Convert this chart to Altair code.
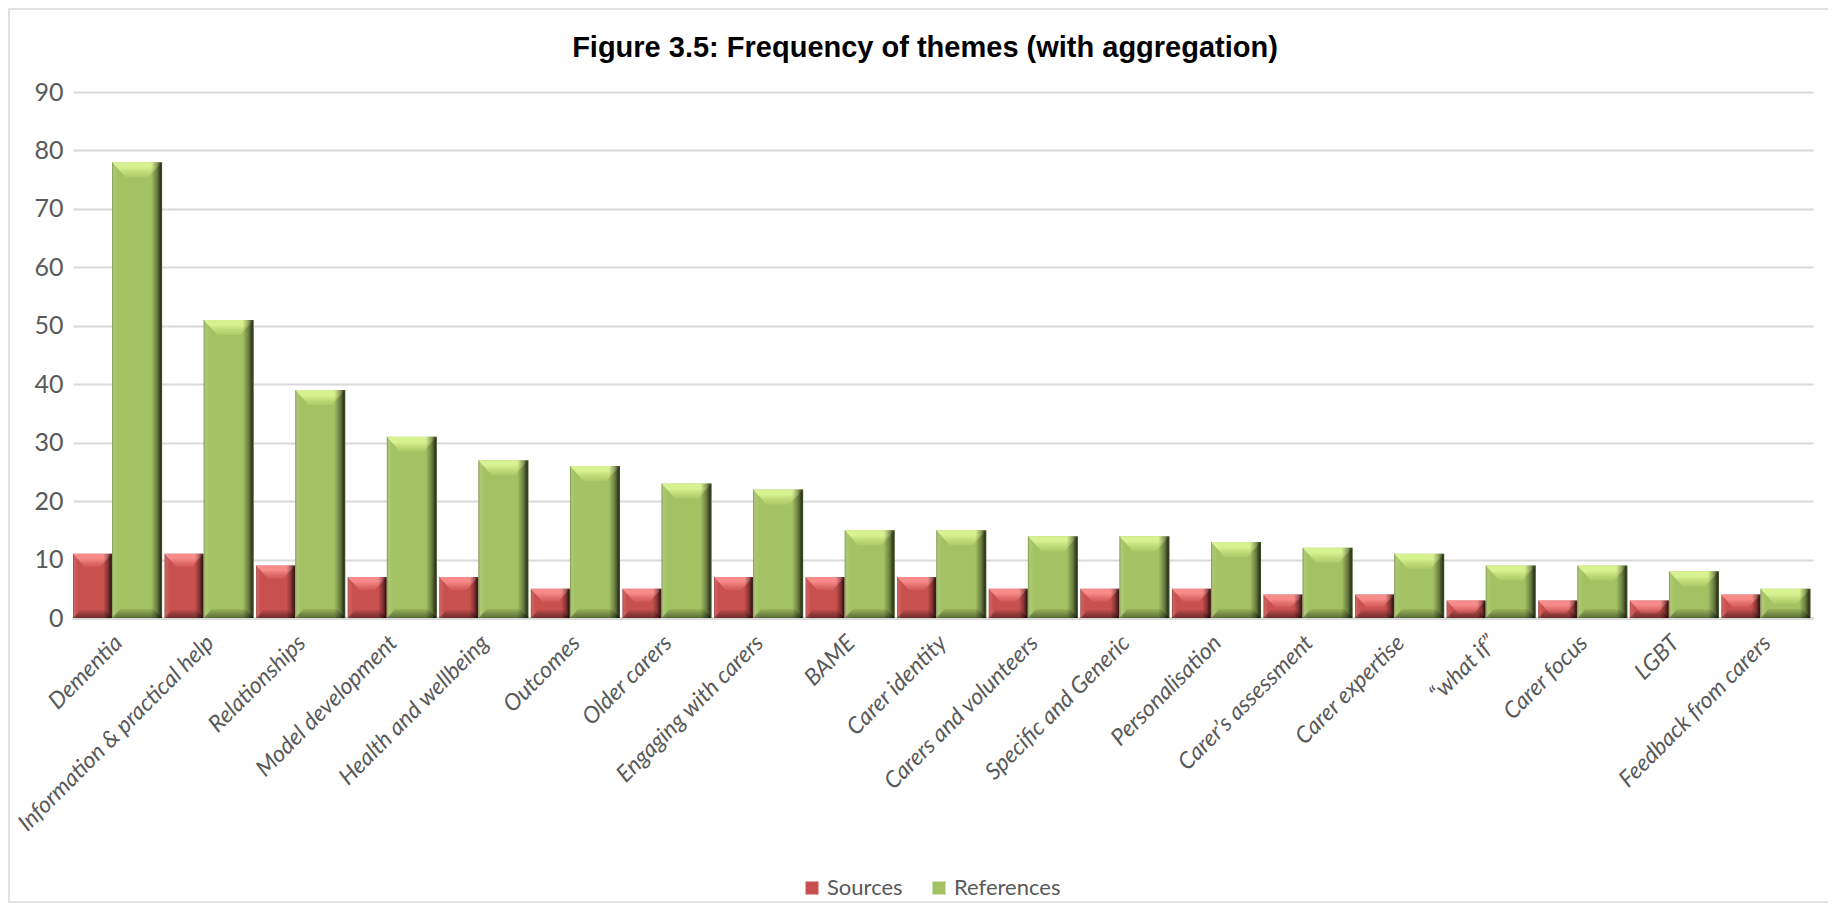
import altair as alt
import pandas as pd

themes = [
    "Dementia", "Information & practical help", "Relationships", "Model development",
    "Health and wellbeing", "Outcomes", "Older carers", "Engaging with carers", "BAME",
    "Carer identity", "Carers and volunteers", "Specific and Generic", "Personalisation",
    "Carer\u2019s assessment", "Carer expertise", "\u201cwhat if\u201d", "Carer focus", "LGBT",
    "Feedback from carers",
]
sources = [11, 11, 9, 7, 7, 5, 5, 7, 7, 7, 5, 5, 5, 4, 4, 3, 3, 3, 4]
references = [78, 51, 39, 31, 27, 26, 23, 22, 15, 15, 14, 14, 13, 12, 11, 9, 9, 8, 5]
series_names = ["Sources", "References"]
series_colors = ["#C8504E", "#A3C263"]
y_ticks = list(range(0, 100, 10))

df = pd.DataFrame({
    "theme": themes * 2,
    "series": ["Sources"] * len(themes) + ["References"] * len(themes),
    "value": sources + references,
})

LABEL_FONT = "Lato"
GREY = "#595959"

xscale = alt.Scale(domain=themes, paddingInner=0, paddingOuter=0)
yscale = alt.Scale(domain=[0, 90], nice=False)
xaxis = alt.Axis(
    title=None, labelAngle=-45, labelAlign="right", labelBaseline="middle",
    labelFont=LABEL_FONT, labelFontSize=23, labelFontStyle="italic", labelColor=GREY,
    labelPadding=21, ticks=False, domainColor="#D9D9D9", domainWidth=2.5,
    labelOverlap=False, labelLimit=0,
)
yaxis = alt.Axis(
    title=None, values=y_ticks, labelFont=LABEL_FONT, labelFontSize=25, labelColor=GREY,
    labelPadding=10, ticks=False, domain=False, gridColor="#D9D9D9", gridWidth=1.8,
)
cscale = alt.Scale(domain=series_names, range=series_colors)
legend = alt.Legend(
    title=None, orient="none", direction="horizontal", legendX=728, legendY=785,
    symbolType="square", symbolSize=169, symbolStrokeWidth=0, labelFont=LABEL_FONT,
    labelFontSize=22, labelColor=GREY, columnPadding=25, labelOffset=4,
)

side_grad = {
    "gradient": "linear", "x1": 0, "x2": 1, "y1": 0, "y2": 0,
    "stops": [
        {"offset": 0, "color": "rgba(0,0,0,0.28)"},
        {"offset": 0.04, "color": "rgba(255,255,255,0.10)"},
        {"offset": 0.12, "color": "rgba(255,255,255,0)"},
        {"offset": 0.78, "color": "rgba(0,0,0,0)"},
        {"offset": 0.9, "color": "rgba(0,0,0,0.36)"},
        {"offset": 0.97, "color": "rgba(0,0,0,0.72)"},
        {"offset": 1, "color": "rgba(0,0,0,0.55)"},
    ],
}


def top_grad(light, mid):
    return {
        "gradient": "linear", "x1": 0, "x2": 0, "y1": 0, "y2": 1,
        "stops": [
            {"offset": 0, "color": light},
            {"offset": 0.35, "color": light},
            {"offset": 1, "color": mid},
        ],
    }


bot_grad = {
    "gradient": "linear", "x1": 0, "x2": 0, "y1": 0, "y2": 1,
    "stops": [
        {"offset": 0, "color": "rgba(0,0,0,0.06)"},
        {"offset": 1, "color": "rgba(0,0,0,0.45)"},
    ],
}


def trapezoid(width, height, inset):
    half = width / 2.0
    hh = (height / 2.0) / half
    b = 1 - inset / half
    top_path = f"M -1 {-hh:.3f} L 1 {-hh:.3f} L {b:.3f} {hh:.3f} L {-b:.3f} {hh:.3f} Z"
    bot_path = f"M {-b:.3f} {-hh:.3f} L {b:.3f} {-hh:.3f} L 1 {hh:.3f} L -1 {hh:.3f} Z"
    return top_path, bot_path


def series_layers(name, width, offset, chamfer, bottom_h, tgrad):
    base = alt.Chart(df).transform_filter(alt.datum.series == name).transform_calculate(
        zero="0",
    )
    x = alt.X("theme:N", sort=themes, scale=xscale, axis=xaxis)
    y = alt.Y("value:Q", scale=yscale, axis=yaxis)
    top_path, _ = trapezoid(width, chamfer, chamfer * 0.9)
    _, bot_path = trapezoid(width, bottom_h, bottom_h * 0.9)
    body = base.mark_bar(width=width, xOffset=offset).encode(
        x=x, y=y,
        color=alt.Color("series:N", scale=cscale, legend=legend),
    )
    top = base.mark_point(
        shape=top_path, size=width * width, filled=True, opacity=1, strokeWidth=0,
        fill=tgrad, xOffset=offset, yOffset=chamfer / 2.0,
    ).encode(x=x, y=y)
    bottom = base.mark_point(
        shape=bot_path, size=width * width, filled=True, opacity=1, strokeWidth=0,
        fill=bot_grad, xOffset=offset, yOffset=-bottom_h / 2.0,
    ).encode(x=x, y=alt.Y("zero:Q", scale=yscale, axis=yaxis))
    side = base.mark_bar(width=width, xOffset=offset, fill=side_grad).encode(x=x, y=y)
    return [body, bottom, top, side]


frame = alt.Chart(pd.DataFrame({"a": [0]})).mark_rect(
    fill=None, stroke="#D9D9D9", strokeWidth=1.5
).encode(
    x=alt.value(-64), x2=alt.value(1790), y=alt.value(-83), y2=alt.value(810),
)

layers = (
    [frame]
    + series_layers("Sources", 39, -26.3, 13, 8,
                    top_grad("rgba(255,150,148,0.85)", "rgba(235,120,118,0.25)"))
    + series_layers("References", 50, 18.3, 15, 9,
                    top_grad("rgba(222,248,150,0.88)", "rgba(195,225,120,0.3)"))
)

chart = alt.layer(*layers).properties(
    width=1740, height=526,
    padding={"left": 65, "top": 84, "right": 15, "bottom": 285},
    autosize=alt.AutoSizeParams(type="none"),
    title=alt.TitleParams(
        "Figure 3.5: Frequency of themes (with aggregation)",
        font="Liberation Sans", fontSize=29, fontWeight="bold", color="#000000",
        anchor="middle", dx=-18, offset=-55,
    ),
).configure_view(stroke=None)

chart.save("out.html", embed_options={"renderer": "svg", "actions": False})
